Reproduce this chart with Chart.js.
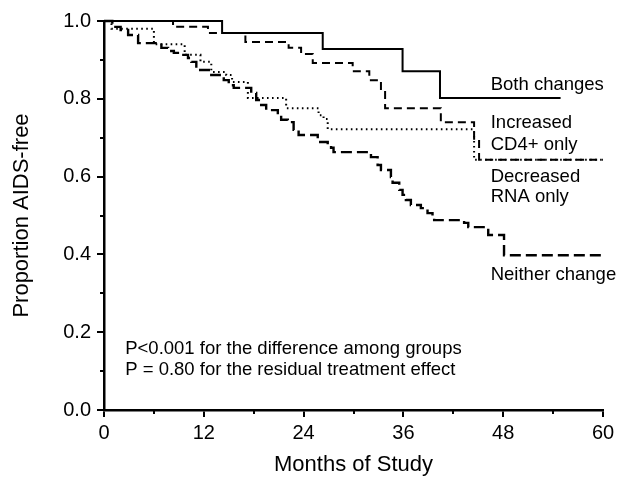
<!DOCTYPE html>
<html><head><meta charset="utf-8">
<script src="https://cdn.jsdelivr.net/npm/chart.js@4"></script>
<style>html,body{margin:0;padding:0;background:#fff}</style>
</head><body>
<canvas id="c" width="621" height="489"></canvas>
<script>
// ---- data ----
const xTickValues = [0, 12, 24, 36, 48, 60];
const yTickValues = [0.0, 0.2, 0.4, 0.6, 0.8, 1.0];
const seriesNames = ['Both changes', 'Increased CD4+ only', 'Decreased RNA only', 'Neither change'];

const bothMonths = [0, 14.2, 26.3, 35.9, 40.4, 54.9];
const bothValues = [1.0, 0.969, 0.928, 0.871, 0.802, 0.802];

const incMonths = [0, 8.3, 12.5, 17.0, 22.2, 23.7, 25.1, 29.9, 31.9, 33.3, 33.8, 40.5, 44.5, 45.1, 60];
const incValues = [1.0, 0.985, 0.969, 0.946, 0.931, 0.915, 0.892, 0.871, 0.848, 0.825, 0.776, 0.740, 0.697, 0.643, 0.643];

const decMonths = [0, 0.9, 6.0, 9.7, 11.6, 12.9, 14.7, 15.4, 17.3, 21.9, 25.8, 26.4, 26.9, 44.5, 60];
const decValues = [1.0, 0.98, 0.94, 0.913, 0.895, 0.869, 0.861, 0.843, 0.802, 0.776, 0.758, 0.748, 0.722, 0.643, 0.643];

const neiMonths = [0, 1.0, 2.0, 2.9, 4.1, 6.9, 7.7, 8.4, 9.3, 10.1, 10.5, 11.1, 12.9, 14.4, 15.0, 15.6, 17.7, 18.3, 18.9, 19.5, 20.9, 21.3, 22.1, 22.8, 23.4, 25.7, 26.9, 27.3, 27.6, 32.1, 32.9, 33.3, 34.5, 34.7, 35.5, 35.9, 36.3, 36.9, 38.1, 38.9, 39.5, 39.7, 43.3, 43.8, 46.2, 48.1, 60];
const neiValues = [1.0, 0.985, 0.977, 0.964, 0.943, 0.931, 0.923, 0.918, 0.913, 0.905, 0.895, 0.874, 0.861, 0.848, 0.835, 0.828, 0.815, 0.797, 0.784, 0.771, 0.758, 0.746, 0.740, 0.720, 0.707, 0.689, 0.681, 0.674, 0.663, 0.650, 0.630, 0.617, 0.599, 0.584, 0.566, 0.553, 0.540, 0.527, 0.519, 0.506, 0.494, 0.488, 0.481, 0.470, 0.450, 0.398, 0.398];

const noteLines = ['P<0.001 for the difference among groups', 'P = 0.80 for the residual treatment effect'];

// ---- chart ----
const FONT = "'Liberation Sans', Arial, Helvetica, sans-serif";
const pts = (xs, ys) => xs.map((x, i) => ({x, y: ys[i]}));

const curveLabels = [
  {text: 'Both changes', x: 46.5, y: 0.835},
  {text: 'Increased', x: 46.5, y: 0.738},
  {text: 'CD4+ only', x: 46.5, y: 0.681},
  {text: 'Decreased', x: 46.5, y: 0.599},
  {text: 'RNA only', x: 46.5, y: 0.548},
  {text: 'Neither change', x: 46.5, y: 0.347}
];

const extras = {
  id: 'extras',
  afterDraw(chart) {
    const {ctx, chartArea, scales: {x, y}} = chart;
    ctx.save();
    ctx.strokeStyle = '#000';
    ctx.lineWidth = 2;
    for (let v = 0.1; v < 1.0; v += 0.2) {
      const py = Math.round(y.getPixelForValue(v));
      ctx.beginPath(); ctx.moveTo(chartArea.left, py); ctx.lineTo(chartArea.left - 4, py); ctx.stroke();
    }
    for (let m = 6; m < 60; m += 12) {
      const px = Math.round(x.getPixelForValue(m));
      ctx.beginPath(); ctx.moveTo(px, chartArea.bottom); ctx.lineTo(px, chartArea.bottom + 4); ctx.stroke();
    }
    ctx.fillStyle = '#000';
    ctx.textBaseline = 'middle';
    ctx.textAlign = 'left';
    ctx.font = '18.5px ' + FONT;
    curveLabels.forEach(l => ctx.fillText(l.text, x.getPixelForValue(l.x), y.getPixelForValue(l.y)));
    ctx.fillText(noteLines[0], x.getPixelForValue(2.55), y.getPixelForValue(0.156));
    ctx.fillText(noteLines[1], x.getPixelForValue(2.55), y.getPixelForValue(0.103));
    ctx.restore();
  }
};

const common = {fill: false, pointRadius: 0, stepped: 'before', borderColor: '#000', clip: false, tension: 0};

new Chart(document.getElementById('c'), {
  type: 'line',
  data: {
    datasets: [
      {...common, label: seriesNames[0], data: pts(bothMonths, bothValues), borderWidth: 2},
      {...common, label: seriesNames[1], data: pts(incMonths, incValues), borderWidth: 2, borderDash: [8, 5]},
      {...common, label: seriesNames[2], data: pts(decMonths, decValues), borderWidth: 2, borderDash: [1.6, 3.4]},
      {...common, label: seriesNames[3], data: pts(neiMonths, neiValues), borderWidth: 2.4, borderDash: [11, 5]}
    ]
  },
  options: {
    responsive: false,
    animation: false,
    devicePixelRatio: 1,
    layout: {padding: {top: 21, right: 18, bottom: 11, left: 0}},
    plugins: {legend: {display: false}, tooltip: {enabled: false}},
    scales: {
      x: {
        type: 'linear', min: 0, max: 60,
        afterBuildTicks: s => { s.ticks = xTickValues.map(v => ({value: v})); },
        afterFit: s => { s.height = 68; },
        ticks: {color: '#000', font: {family: FONT, size: 20}, padding: 4, maxRotation: 0, autoSkip: false},
        grid: {display: true, drawOnChartArea: false, drawTicks: true, tickLength: 7, color: '#000', lineWidth: 2},
        border: {display: true, color: '#000', width: 2.5},
        title: {display: true, text: 'Months of Study', color: '#000', font: {family: FONT, size: 22}, padding: {top: 0, bottom: 0}}
      },
      y: {
        type: 'linear', min: 0, max: 1,
        afterBuildTicks: s => { s.ticks = yTickValues.map(v => ({value: v})); },
        afterFit: s => { s.width = 104; },
        ticks: {color: '#000', font: {family: FONT, size: 20}, padding: 6, callback: v => Number(v).toFixed(1)},
        grid: {display: true, drawOnChartArea: false, drawTicks: true, tickLength: 7, color: '#000', lineWidth: 2},
        border: {display: true, color: '#000', width: 2.5},
        title: {display: true, text: 'Proportion AIDS-free', color: '#000', font: {family: FONT, size: 22}, padding: {top: 9, bottom: 0}}
      }
    }
  },
  plugins: [extras]
});
</script>
</body></html>
